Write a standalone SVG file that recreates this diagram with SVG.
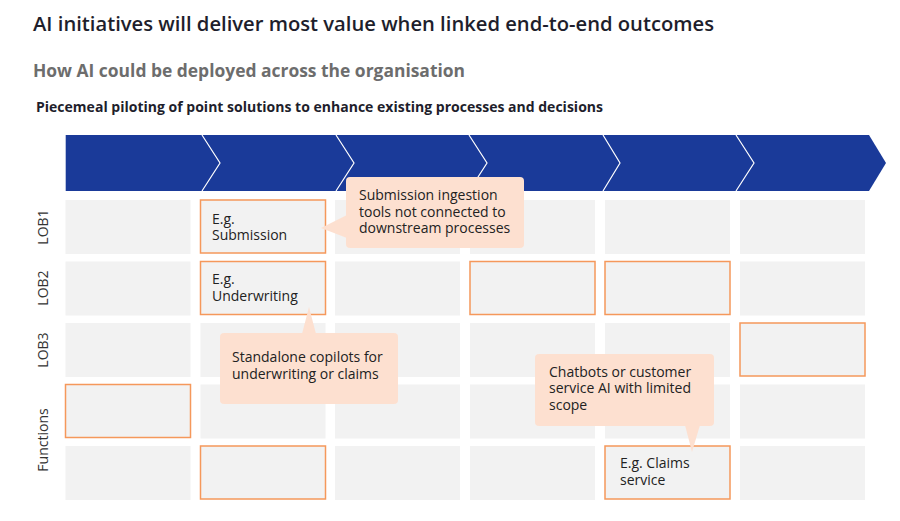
<svg xmlns="http://www.w3.org/2000/svg" width="900" height="521" viewBox="0 0 900 521">
<style>
.t{font-family:"Open Sans","Liberation Sans",sans-serif}
.h1{font-size:20px;font-weight:600;fill:#1e1e2c}
.h2{font-size:17px;font-weight:700;fill:#6d6d6d}
.h3{font-size:14px;font-weight:700;fill:#1e1e2c}
.cell{fill:#f2f2f2}
.hl{fill:#f2f2f2;stroke:#f5985b;stroke-width:1.5}
.co{fill:#fde0d0}
.tx{font-size:14px;fill:#222}
.lab{font-size:14px;fill:#333;text-anchor:middle}
.sep{fill:none;stroke:#fff;stroke-width:1.2}
</style>
<rect width="900" height="521" fill="#fff"/>
<text class="t h1" x="33" y="31" textLength="681" lengthAdjust="spacingAndGlyphs">AI initiatives will deliver most value when linked end-to-end outcomes</text>
<text class="t h2" x="33" y="77" textLength="432" lengthAdjust="spacingAndGlyphs">How AI could be deployed across the organisation</text>
<text class="t h3" x="36" y="112" textLength="567" lengthAdjust="spacingAndGlyphs">Piecemeal piloting of point solutions to enhance existing processes and decisions</text>

<g id="process-bar">
<path d="M65.7,135 L869,135 L886,163 L869,191 L65.7,191 Z" fill="#1a3a99"/>
<polyline class="sep" points="202,135 220,163 202,191"/>
<polyline class="sep" points="336,135 354,163 336,191"/>
<polyline class="sep" points="469,135 487,163 469,191"/>
<polyline class="sep" points="603,135 620,163 603,191"/>
<polyline class="sep" points="736,135 754,163 736,191"/>
</g>

<g id="row-labels">
<text class="t lab" transform="translate(48,227) rotate(-90)">LOB1</text>
<text class="t lab" transform="translate(48,288) rotate(-90)">LOB2</text>
<text class="t lab" transform="translate(48,350) rotate(-90)">LOB3</text>
<text class="t lab" transform="translate(48,440) rotate(-90)">Functions</text>
</g>

<g id="grid">
<rect class="cell" x="65.5" y="200" width="125" height="54"/>
<rect class="cell" x="335" y="200" width="125" height="54"/>
<rect class="cell" x="470" y="200" width="125" height="54"/>
<rect class="cell" x="605" y="200" width="125" height="54"/>
<rect class="cell" x="740" y="200" width="125" height="54"/>
<rect class="cell" x="65.5" y="261.5" width="125" height="54"/>
<rect class="cell" x="335" y="261.5" width="125" height="54"/>
<rect class="cell" x="740" y="261.5" width="125" height="54"/>
<rect class="cell" x="65.5" y="323" width="125" height="54"/>
<rect class="cell" x="200.5" y="323" width="125" height="54"/>
<rect class="cell" x="335" y="323" width="125" height="54"/>
<rect class="cell" x="470" y="323" width="125" height="54"/>
<rect class="cell" x="605" y="323" width="125" height="54"/>
<rect class="cell" x="200.5" y="384.5" width="125" height="54"/>
<rect class="cell" x="335" y="384.5" width="125" height="54"/>
<rect class="cell" x="470" y="384.5" width="125" height="54"/>
<rect class="cell" x="605" y="384.5" width="125" height="54"/>
<rect class="cell" x="740" y="384.5" width="125" height="54"/>
<rect class="cell" x="65.5" y="446" width="125" height="54"/>
<rect class="cell" x="335" y="446" width="125" height="54"/>
<rect class="cell" x="470" y="446" width="125" height="54"/>
<rect class="cell" x="740" y="446" width="125" height="54"/>
</g>

<g id="node-submission">
<rect class="hl" x="200.5" y="200" width="125" height="53"/>
<text class="t tx" x="212" y="224">E.g.</text>
<text class="t tx" x="212" y="240">Submission</text>
</g>
<g id="node-underwriting">
<rect class="hl" x="200.5" y="261.5" width="125" height="53"/>
<text class="t tx" x="212" y="284">E.g.</text>
<text class="t tx" x="212" y="301">Underwriting</text>
</g>
<g id="node-lob2-c4"><rect class="hl" x="470" y="261.5" width="125" height="53"/></g>
<g id="node-lob2-c5"><rect class="hl" x="605" y="261.5" width="125" height="53"/></g>
<g id="node-lob3-c6"><rect class="hl" x="740" y="323" width="125" height="53"/></g>
<g id="node-func-c1"><rect class="hl" x="65.5" y="384.5" width="125" height="53"/></g>
<g id="node-func-c2"><rect class="hl" x="200.5" y="446" width="125" height="53"/></g>
<g id="node-claims">
<rect class="hl" x="605" y="446" width="125" height="53"/>
<text class="t tx" x="620" y="468">E.g. Claims</text>
<text class="t tx" x="620" y="485">service</text>
</g>

<g id="callout-submission">
<rect class="co" x="346" y="177" width="178" height="71" rx="4"/>
<polygon class="co" points="347,215 321,228 347,238"/>
<text class="t tx" x="359" y="200">Submission ingestion</text>
<text class="t tx" x="359" y="217">tools not connected to</text>
<text class="t tx" x="359" y="233">downstream processes</text>
</g>
<g id="callout-copilots">
<rect class="co" x="220" y="333" width="178" height="71" rx="4"/>
<polygon class="co" points="302,334 309,307 316,334"/>
<text class="t tx" x="232" y="362">Standalone copilots for</text>
<text class="t tx" x="232" y="379">underwriting or claims</text>
</g>
<g id="callout-chatbots">
<rect class="co" x="535" y="354" width="179" height="72" rx="4"/>
<polygon class="co" points="685,425 692,452 700,425"/>
<text class="t tx" x="549" y="377">Chatbots or customer</text>
<text class="t tx" x="549" y="393">service AI with limited</text>
<text class="t tx" x="549" y="410">scope</text>
</g>
</svg>
